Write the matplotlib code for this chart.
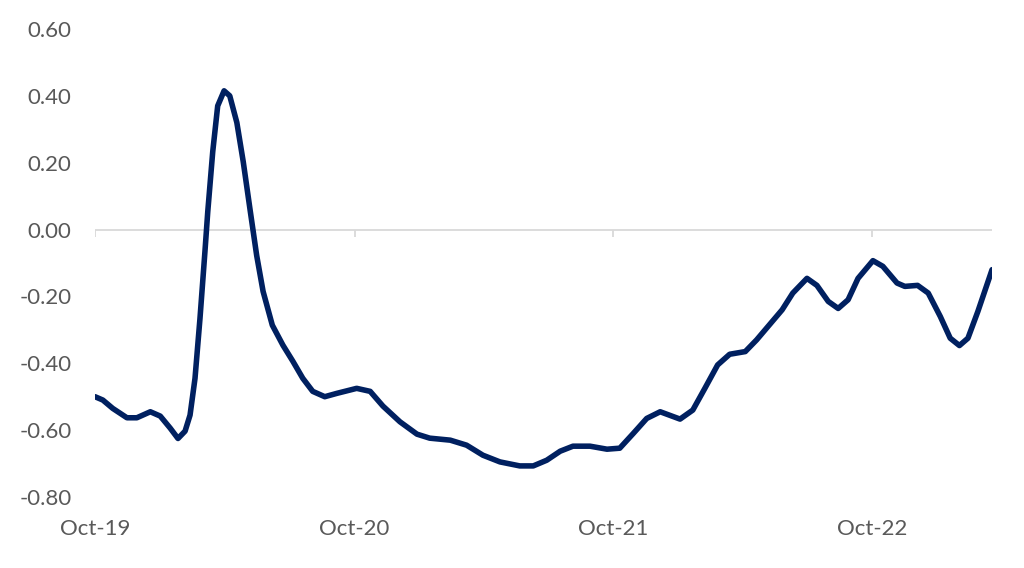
import numpy as np
import pandas as pd
import matplotlib
matplotlib.use("Agg")
import matplotlib.pyplot as plt
import matplotlib.dates as mdates

# valores
fechas = ["2019-10-01", "2019-10-12", "2019-10-26", "2019-11-15", "2019-11-29",
          "2019-12-18", "2020-01-01", "2020-01-15", "2020-01-26", "2020-02-05",
          "2020-02-12", "2020-02-19", "2020-02-26", "2020-03-04", "2020-03-08",
          "2020-03-15", "2020-03-22", "2020-03-31", "2020-04-08", "2020-04-18",
          "2020-04-27", "2020-05-07", "2020-05-16", "2020-05-25", "2020-06-07",
          "2020-06-22", "2020-07-06", "2020-07-20", "2020-08-03", "2020-08-20",
          "2020-09-06", "2020-10-04", "2020-10-23", "2020-11-10", "2020-12-04",
          "2020-12-28", "2021-01-15", "2021-02-13", "2021-03-08", "2021-03-31",
          "2021-04-24", "2021-05-22", "2021-06-10", "2021-06-29", "2021-07-18",
          "2021-08-05", "2021-08-29", "2021-09-22", "2021-10-10", "2021-10-29",
          "2021-11-17", "2021-12-06", "2022-01-03", "2022-01-21", "2022-02-07",
          "2022-02-25", "2022-03-14", "2022-04-05", "2022-04-21", "2022-05-07",
          "2022-05-27", "2022-06-11", "2022-07-01", "2022-07-15", "2022-07-31",
          "2022-08-14", "2022-08-28", "2022-09-11", "2022-10-02", "2022-10-16",
          "2022-11-05", "2022-11-16", "2022-12-04", "2022-12-19", "2023-01-05",
          "2023-01-19", "2023-02-01", "2023-02-13", "2023-02-27", "2023-03-19"]

valores = [-0.50, -0.51, -0.535, -0.563, -0.563,
           -0.545, -0.558, -0.594, -0.625, -0.603,
           -0.555, -0.445, -0.266, -0.066, 0.054,
           0.233, 0.37, 0.415, 0.40, 0.32,
           0.203, 0.054, -0.078, -0.185, -0.286,
           -0.346, -0.394, -0.445, -0.484, -0.50,
           -0.49, -0.475, -0.484, -0.528, -0.575,
           -0.612, -0.624, -0.63, -0.645, -0.675,
           -0.695, -0.707, -0.707, -0.69, -0.663,
           -0.648, -0.648, -0.657, -0.654, -0.61,
           -0.565, -0.545, -0.567, -0.54, -0.475,
           -0.405, -0.373, -0.365, -0.33, -0.29,
           -0.24, -0.19, -0.146, -0.167, -0.215,
           -0.236, -0.21, -0.146, -0.093, -0.11,
           -0.16, -0.17, -0.167, -0.19, -0.26,
           -0.325, -0.347, -0.325, -0.245, -0.12]

marcas = ["2019-10-01", "2020-10-01", "2021-10-01", "2022-10-01"]
etiquetas_y = [-0.8, -0.6, -0.4, -0.2, 0.0, 0.2, 0.4, 0.6]

fechas = pd.to_datetime(fechas)
marcas = pd.to_datetime(marcas)

plt.rcParams['font.family'] = ['Lato', 'DejaVu Sans']
gris = '#595959'
gris_claro = '#d9d9d9'

fig = plt.figure(figsize=(10.24, 5.68), dpi=100)
ax = fig.add_axes([0.0928, 0.125, 0.876, 0.824])

# linea del cero y sus marcas de año
ax.axhline(0, color=gris_claro, linewidth=1.3, zorder=1)
ax.vlines(marcas, -0.022, 0, color=gris_claro, linewidth=1.3, zorder=1)

ax.plot(fechas, valores, color='#002060', linewidth=4.0,
        solid_capstyle='round', solid_joinstyle='round', zorder=3)

ax.set_ylim(-0.8, 0.6)
ax.set_xlim(fechas[0], fechas[-1])
ax.set_yticks(etiquetas_y)
ax.set_yticklabels([f"{v:.2f}" for v in etiquetas_y])

ax.set_xticks(marcas)
ax.xaxis.set_major_formatter(mdates.DateFormatter('%b-%y'))

for lado in ['top', 'right', 'left', 'bottom']:
    ax.spines[lado].set_visible(False)

ax.tick_params(axis='y', length=0, pad=17, labelsize=16, labelcolor=gris)
ax.tick_params(axis='x', length=0, pad=16, labelsize=16, labelcolor=gris)

fig.savefig('out.png', dpi=100)
